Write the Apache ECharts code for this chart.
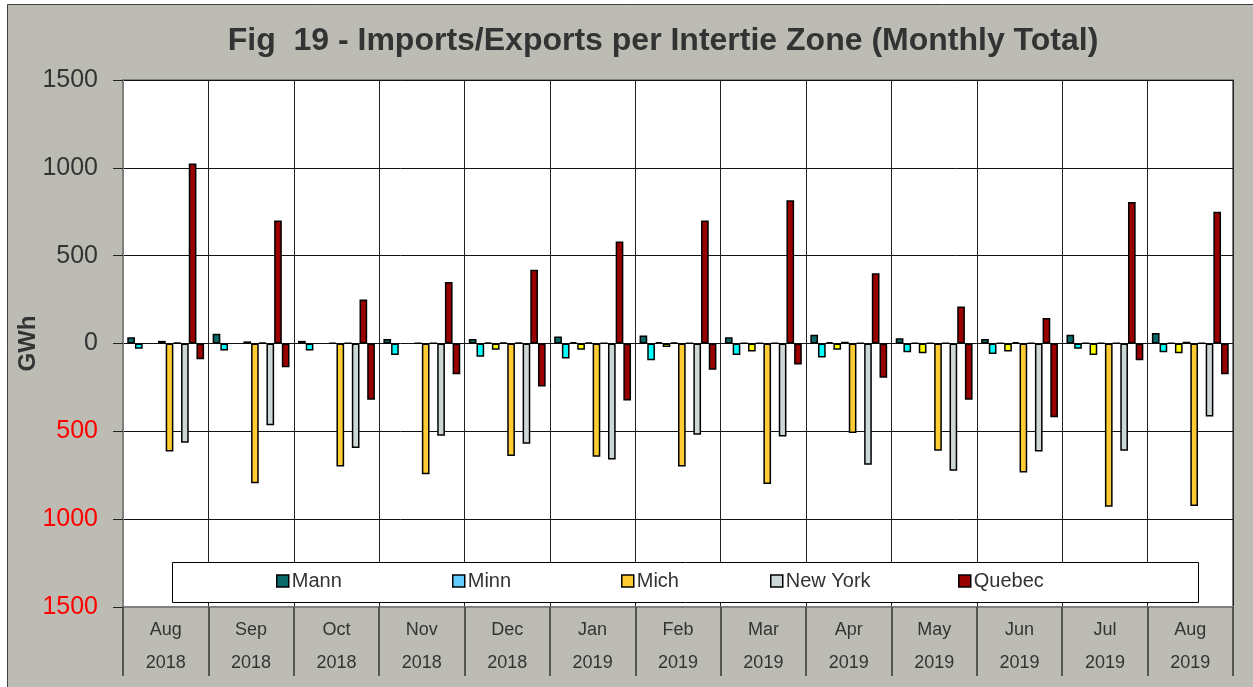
<!DOCTYPE html>
<html>
<head>
<meta charset="utf-8">
<script src="https://cdn.jsdelivr.net/npm/echarts@6/dist/echarts.min.js"></script>
<style>
  html, body { margin: 0; padding: 0; background: #fff; }
  #chart { width: 1253px; height: 687px; }
</style>
</head>
<body>
<div id="chart"></div>
<script>
// months shown on the x axis
const months = ["Aug\n2018", "Sep\n2018", "Oct\n2018", "Nov\n2018", "Dec\n2018", "Jan\n2019", "Feb\n2019",
  "Mar\n2019", "Apr\n2019", "May\n2019", "Jun\n2019", "Jul\n2019", "Aug\n2019"];
const yTicks = [-1500, -1000, -500, 0, 500, 1000, 1500];

// GWh, 10 bars per month (left to right inside each group)
const mann     = [35, 55, 15, 25, 25, 40, 45, 35, 50, 30, 25, 50, 60];
const minn     = [-30, -40, -40, -65, -75, -85, -95, -65, -80, -50, -60, -30, -50];
const bar3     = [null, null, null, null, 5, 8, 8, 3, 8, 3, 3, 3, 3];
const bar4     = [null, null, null, null, -35, -35, -20, -45, -35, -55, -45, -65, -55];
const bar5     = [15, 12, 3, 3, 5, 5, 5, 3, 10, 3, 8, 3, 10];
const mich     = [-615, -795, -700, -745, -640, -645, -700, -800, -510, -610, -735, -930, -925];
const bar7     = [5, 5, 3, 3, 5, 3, 3, 3, 3, 3, 3, 3, 3];
const newYork  = [-565, -465, -595, -525, -570, -660, -520, -530, -690, -725, -615, -610, -415];
const quebec   = [1025, 700, 250, 350, 420, 580, 700, 815, 400, 210, 145, 805, 750];
const quebec2  = [-90, -135, -320, -175, -245, -325, -150, -120, -195, -320, -420, -95, -175];

const bars = [
  { name: "Mann", data: mann, color: "#0A6A6A" },
  { name: "Minn", data: minn, color: "#00FFFF" },
  { name: "Minn 2", data: bar3, color: "#00FFFF" },
  { name: "Mich 2", data: bar4, color: "#FFFF00" },
  { name: "Mich 3", data: bar5, color: "#FFCC33" },
  { name: "Mich", data: mich, color: "#FFCC33" },
  { name: "New York 2", data: bar7, color: "#CCD8D8" },
  { name: "New York", data: newYork, color: "#CCD8D8" },
  { name: "Quebec", data: quebec, color: "#990000" },
  { name: "Quebec 2", data: quebec2, color: "#990000" }
];

const legendItems = [
  { name: "Mann", color: "#0A6A6A", left: 276 },
  { name: "Minn", color: "#66CCFF", left: 452 },
  { name: "Mich", color: "#FFCC33", left: 621 },
  { name: "New York", color: "#CCD8D8", left: 770 },
  { name: "Quebec", color: "#990000", left: 958 }
];

const font = "'Liberation Sans', Arial, sans-serif";
const chart = echarts.init(document.getElementById("chart"));

const option = {
  backgroundColor: "#ffffff",
  animation: false,
  textStyle: { fontFamily: font },
  title: {
    text: "Fig  19 - Imports/Exports per Intertie Zone (Monthly Total)",
    left: 658,
    textAlign: "center",
    top: 20,
    textStyle: { fontSize: 32, fontWeight: "bold", color: "#333", fontFamily: font }
  },
  graphic: [
    {
      type: "rect",
      z: -10,
      shape: { x: 7.5, y: 4.5, width: 1260, height: 700 },
      style: { fill: "#BCBCB4", stroke: "#404040", lineWidth: 1 }
    },
    {
      type: "rect",
      z: 3,
      shape: { x: 172.5, y: 562.5, width: 1026, height: 40 },
      style: { fill: "#ffffff", stroke: "#000", lineWidth: 1 }
    }
  ],
  legend: legendItems.map(function (it) {
    return {
      data: [{ name: it.name, itemStyle: { color: it.color, borderColor: "#000", borderWidth: 1.5 } }],
      left: it.left,
      top: 571,
      padding: 0,
      z: 5,
      icon: "rect",
      itemWidth: 12,
      itemHeight: 12,
      itemGap: 4,
      selectedMode: false,
      textStyle: { fontSize: 20, color: "#333", fontFamily: font, padding: [0, 0, 0, -2] }
    };
  }),
  grid: {
    left: 123,
    right: 20,
    top: 80,
    bottom: 80,
    show: true,
    backgroundColor: "#ffffff",
    borderColor: "#808080",
    borderWidth: 2
  },
  xAxis: {
    type: "category",
    data: months,
    position: "bottom",
    axisLine: { show: true, onZero: false, lineStyle: { color: "#808080", width: 2 } },
    axisTick: { show: true, interval: 0, length: 69, lineStyle: { color: "#333", width: 1.5 } },
    axisLabel: { interval: 0, fontSize: 18, color: "#333", lineHeight: 33, margin: 7, fontFamily: font },
    splitLine: { show: true, interval: 0, lineStyle: { color: "#222", width: 1 } }
  },
  yAxis: {
    type: "value",
    min: yTicks[0],
    max: yTicks[yTicks.length - 1],
    interval: 500,
    name: "GWh",
    nameLocation: "middle",
    nameGap: 83,
    nameMoveOverlap: false,
    nameRotate: 90,
    nameTextStyle: { fontSize: 24, fontWeight: "bold", color: "#333", fontFamily: font },
    axisLine: { show: true, lineStyle: { color: "#808080", width: 2 } },
    axisTick: { show: true, inside: false, length: 10, lineStyle: { color: "#222" } },
    axisLabel: {
      fontSize: 25,
      margin: 25,
      fontFamily: font,
      formatter: function (v) { return String(Math.abs(v)); },
      color: function (v) { return Number(v) < 0 ? "#FF0000" : "#333333"; }
    },
    splitLine: { show: true, lineStyle: { color: "#111", width: 1 } }
  },
  series: bars.map(function (b) {
    return {
      name: b.name,
      type: "bar",
      data: b.data,
      barGap: "0%",
      barCategoryGap: "10%",
      itemStyle: { color: b.color, borderColor: "#000", borderWidth: 1.5 },
      emphasis: { disabled: true }
    };
  })
};

chart.setOption(option);
</script>
</body>
</html>
